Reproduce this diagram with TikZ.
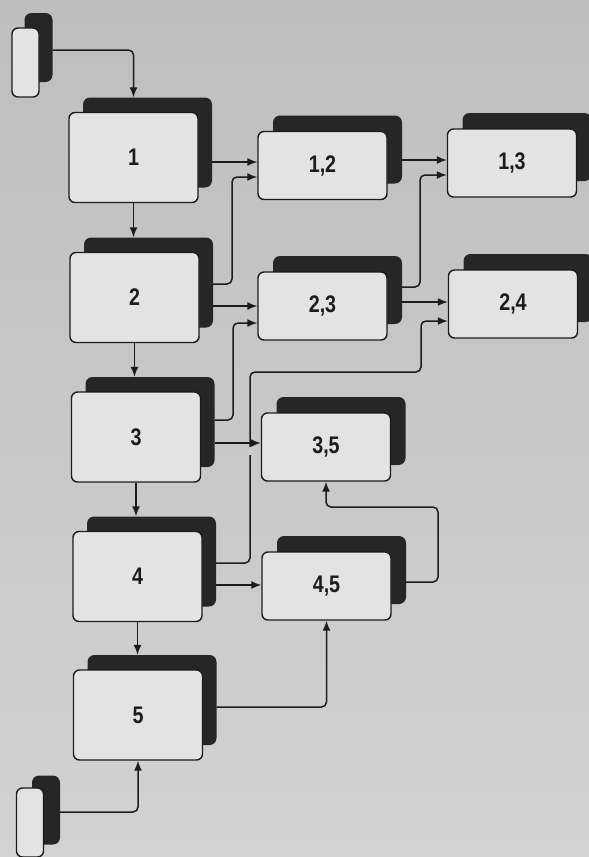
\documentclass[tikz,border=0pt]{standalone}
\usepackage{fontspec}
\newfontfamily\lblfont[FakeStretch=0.82]{Liberation Sans}
\usetikzlibrary{arrows.meta,calc}
\definecolor{papertop}{HTML}{BEBEBE}
\definecolor{paperbot}{HTML}{D2D2D2}
\definecolor{boxc}{HTML}{E3E3E3}
\definecolor{shadowc}{HTML}{262626}
\definecolor{linec}{HTML}{1C1C1C}
\tikzset{
  frontbox/.style={draw=linec, line width=1.4pt, fill=boxc, rounded corners=6pt,
    inner sep=0pt, font=\lblfont\bfseries\fontsize{24}{24}\selectfont, text=linec},
  bigbox/.style={frontbox, minimum width=129pt, minimum height=90pt},
  midbox/.style={frontbox, minimum width=129pt, minimum height=68pt},
  tinybox/.style={frontbox, minimum width=27pt, minimum height=69pt},
  shadowbox/.style={fill=shadowc, draw=none, rounded corners=7pt, inner sep=0pt},
  bigshadow/.style={shadowbox, minimum width=129pt, minimum height=90pt},
  midshadow/.style={shadowbox, minimum width=129pt, minimum height=68pt},
  tinyshadow/.style={shadowbox, minimum width=28pt, minimum height=69pt},
  arr/.style={draw=linec, line width=1.5pt, rounded corners=5pt,
    -{Latex[length=10pt,width=8pt]}},
  gapline/.style={draw=paperbot!80!papertop, line width=3pt},
}
\begin{document}
\begin{tikzpicture}[x=1pt,y=-1pt]
\useasboundingbox (0,0) rectangle (589,857);
\shade[top color=papertop, bottom color=paperbot] (0,0) rectangle (589,857);

% shadows
\node[tinyshadow] (sa) at (38.5,47.5) {};
\node[tinyshadow] (sb) at (46,810) {};
\node[bigshadow] (s1) at (147.5,142.5) {};
\node[bigshadow] (s2) at (148.5,282.5) {};
\node[bigshadow] (s3) at (150,422) {};
\node[bigshadow] (s4) at (151.5,561.5) {};
\node[bigshadow] (s5) at (152,700) {};
\node[midshadow] (s12) at (337.5,149.5) {};
\node[midshadow] (s13) at (527,147) {};
\node[midshadow] (s23) at (337.5,290) {};
\node[midshadow] (s24) at (528,288) {};
\node[midshadow] (s35) at (341,431) {};
\node[midshadow] (s45) at (341.5,570) {};

% front boxes
\node[tinybox] (na) at (25.5,62.5) {};
\node[tinybox] (nb) at (30,822.5) {};
\node[bigbox] (n1) at (133.5,157.5) {1};
\node[bigbox] (n2) at (134.5,297.5) {2};
\node[bigbox] (n3) at (136,437) {3};
\node[bigbox] (n4) at (137.5,576.5) {4};
\node[bigbox] (n5) at (138,715) {5};
\node[midbox] (n12) at (322.5,165.5) {1,2};
\node[midbox] (n13) at (512,163) {1,3};
\node[midbox] (n23) at (322.5,306) {2,3};
\node[midbox] (n24) at (513,304) {2,4};
\node[midbox] (n35) at (326,447) {3,5};
\node[midbox] (n45) at (326.5,586) {4,5};

% connectors
\draw[arr] (sa.east |- 0,50) -- (n1.north |- 0,50) -- (n1.north |- s1.north);
\draw[arr] (n1.south) -- (n1.south |- s2.north);
\draw[arr] (n2.south) -- (n2.south |- s3.north);
\draw[arr] (n3.south) -- (n3.south |- s4.north);
\draw[arr] (n4.south) -- (n4.south |- s5.north);
\draw[arr] (sb.east |- 0,812) -- (n5.south |- 0,812) -- (n5.south);

\draw[arr] (s1.east |- 0,162) -- (n12.west |- 0,162);
\draw[arr] (s2.east |- 0,284) -- (232,284) -- (232,177) -- (n12.west |- 0,177);
\draw[arr] (s2.east |- 0,306) -- (n23.west |- 0,306);
\draw[arr] (s3.east |- 0,420) -- (233,420) -- (233,323) -- (n23.west |- 0,323);
\draw[arr] (s4.east |- 0,563) -- (250,563) -- (250,372) -- (421,372) -- (421,321) -- (n24.west |- 0,321);
\draw[gapline] (250,447) -- (250,455);
\draw[arr] (s3.east |- 0,443) -- (n35.west |- 0,443);
\draw[arr] (s4.east |- 0,585) -- (n45.west |- 0,585);

\draw[arr] (s12.east |- 0,160) -- (n13.west |- 0,160);
\draw[arr] (s23.east |- 0,287) -- (420,287) -- (420,175) -- (n13.west |- 0,175);
\draw[arr] (s23.east |- 0,302) -- (n24.west |- 0,302);

\draw[arr] (s45.east |- 0,582) -- (438,582) -- (438,507) -- (n35.south |- 0,507) -- (n35.south);
\draw[arr] (s5.east |- 0,707) -- (n45.south |- 0,707) -- (n45.south);
\end{tikzpicture}
\end{document}
